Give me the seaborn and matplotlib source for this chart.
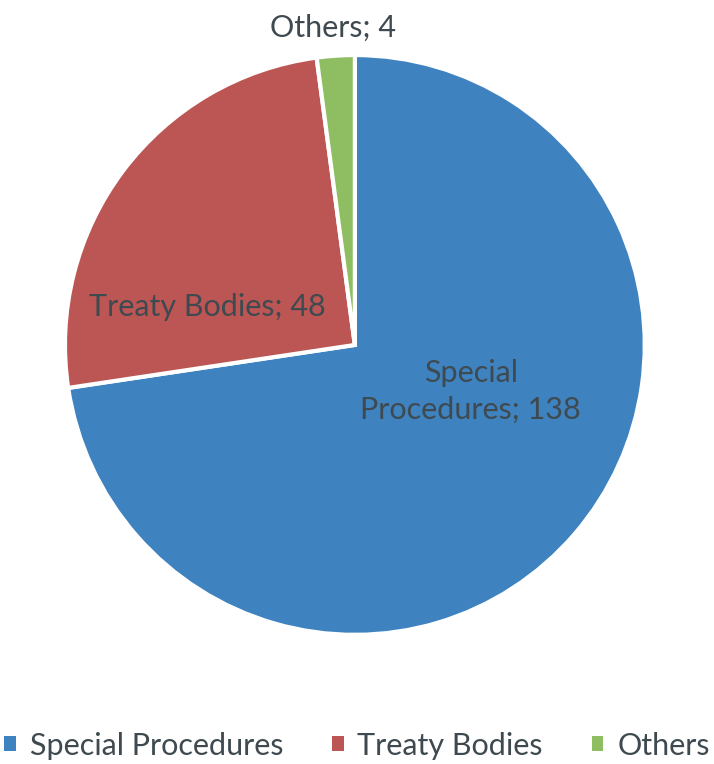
import matplotlib
matplotlib.use('Agg')
import matplotlib.pyplot as plt
import seaborn as sns
from matplotlib.patches import Patch

sns.set_theme(style='white')
plt.rcParams['font.family'] = ['Lato', 'DejaVu Sans']

# data
categories = ['Special Procedures', 'Treaty Bodies', 'Others']
values = [138, 48, 4]
label_text = ['Special\nProcedures; 138', 'Treaty Bodies; 48', 'Others; 4']
colors = ['#3F82C0', '#BC5654', '#8FBE62']
text_color = '#3E4A50'

fig = plt.figure(figsize=(7.14, 7.64), dpi=100)
ax = fig.add_axes([0.091, 0.169, 0.812, 0.759])

wedges, _ = ax.pie(values, colors=colors, startangle=90, counterclock=False,
                   radius=1, wedgeprops=dict(edgecolor='white', linewidth=3))
ax.set_xlim(-1, 1)
ax.set_ylim(-1, 1)
ax.set_aspect('equal')

# label placement (data units relative to pie centre)
label_pos = [(0.40, -0.16), (-0.51, 0.13), (-0.075, 1.095)]
for txt, (x, y) in zip(label_text, label_pos):
    ax.text(x, y, txt, ha='center', va='center', fontsize=22,
            color=text_color, linespacing=1.4, clip_on=False)

handles = [Patch(facecolor=c, edgecolor='none') for c in colors]
fig.legend(handles, categories, loc='center', bbox_to_anchor=(0.5, 0.024),
           ncol=3, frameon=False, fontsize=22, labelcolor=text_color,
           handlelength=0.38, handleheight=0.38, handletextpad=0.45,
           columnspacing=1.6, borderpad=0, borderaxespad=0)

fig.savefig('out.png', dpi=100)
